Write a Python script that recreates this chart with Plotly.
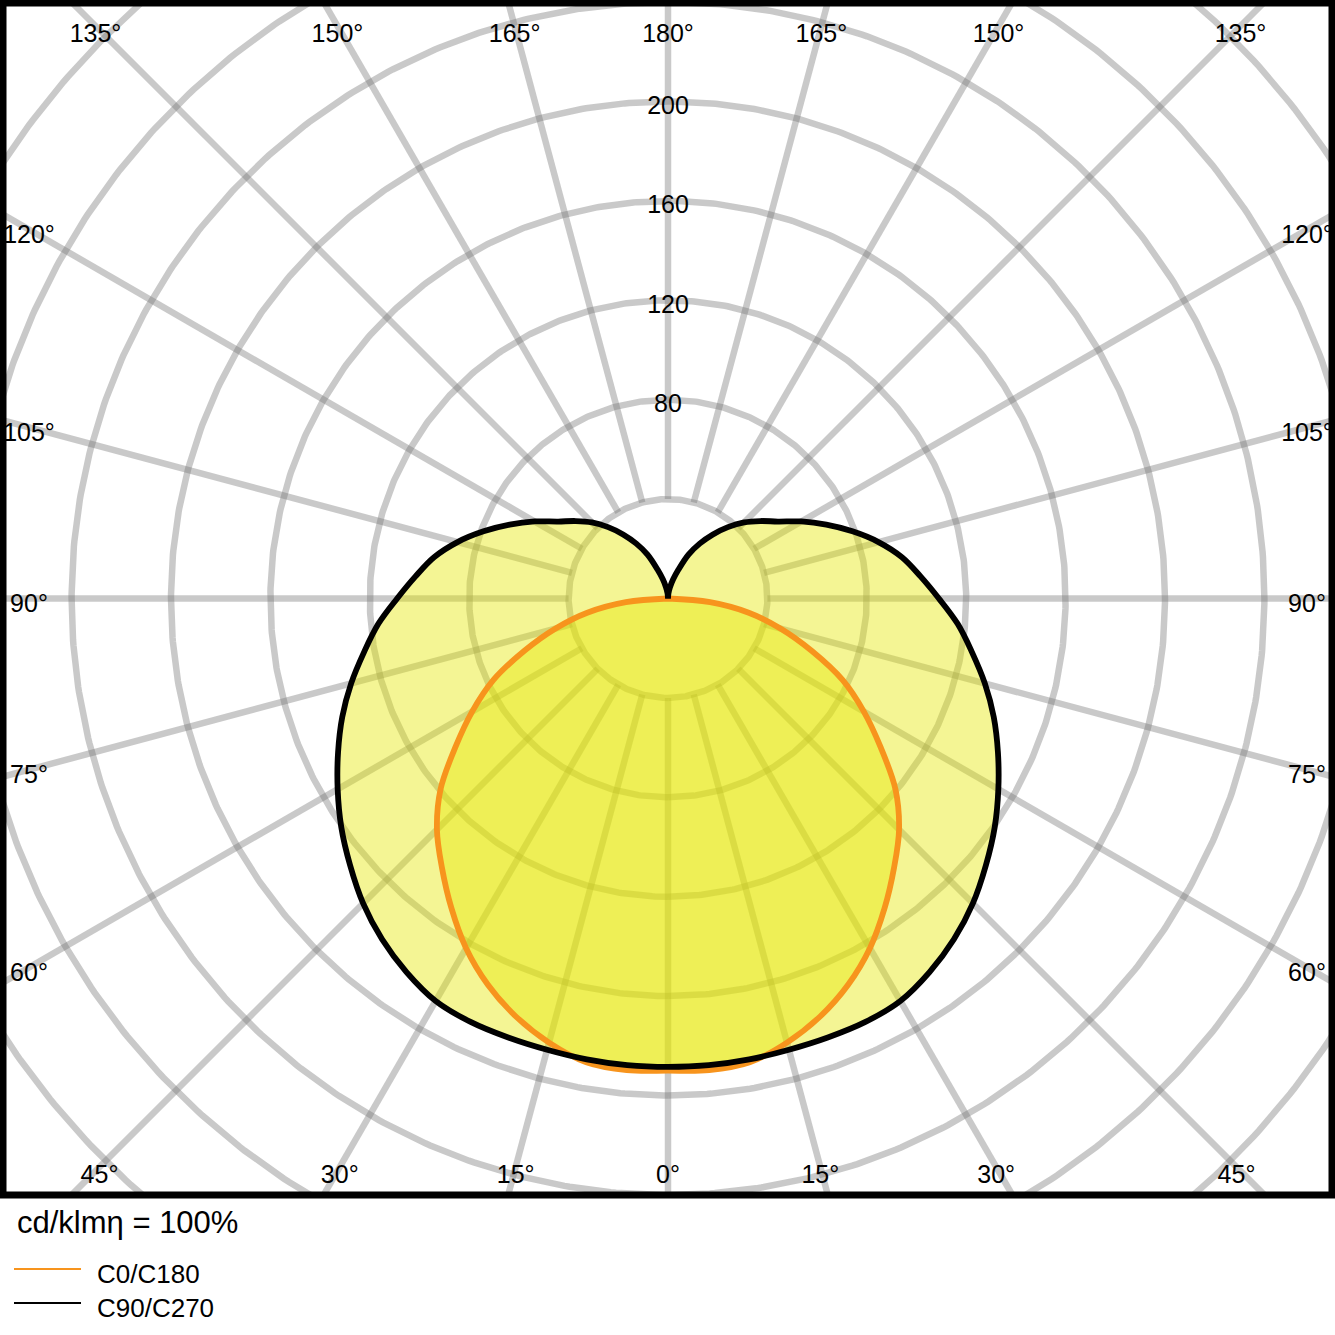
import numpy as np
import plotly.graph_objects as go

# luminous intensity (cd/klm) every 5 degrees, gamma 0 = straight down
gamma = list(range(0, 181, 5))
c0_c180 = [190, 190.5, 189.5, 185, 179, 171.5, 162.5, 152, 141.5, 131.5,
           119.5, 104.5, 91, 77.5, 61.5, 47, 33, 17, 0,
           0, 0, 0, 0, 0, 0, 0, 0, 0, 0, 0, 0, 0, 0, 0, 0, 0, 0]
c90_c270 = [188.5, 188.5, 188.3, 188, 188, 188, 187, 183.5, 179, 173.5,
            167, 160.5, 153.5, 146.5, 139.5, 132, 124.2, 117, 109,
            102, 95.6, 87.7, 79, 70.3, 62, 54, 48.5, 43.3, 37.5, 31.5,
            25.5, 19.5, 12.5, 8, 4.5, 2, 0]
series_names = ["C0/C180", "C90/C270"]
series_colors = ["#f7941d", "#000000"]

ring_values = [40, 80, 120, 160, 200, 240, 280, 320, 360]
ring_labels = [80, 120, 160, 200]
angle_ticks = list(range(0, 181, 15))
title_text = "cd/klm\u03b7 = 100%"

FONT = "Liberation Sans, Arial, sans-serif"
GRID = "rgba(120,120,120,0.4)"
FILL = "rgba(228,232,0,0.42)"

# plot area geometry (px): centre of the diagram and scale
W, H = 1335, 1335
ML, MR, MT, MB = 3, 3, 3, 140
CX, CY, S = 668, 598.5, 2.485
xr = [(ML - CX) / S, (W - MR - CX) / S]
yr = [(CY - (H - MB)) / S, (CY - MT) / S]


def to_xy(theta, r):
    t = np.radians(np.asarray(theta, dtype=float))
    r = np.asarray(r, dtype=float)
    return r * np.sin(t), -r * np.cos(t)


def mirrored(vals):
    g = np.array(gamma, dtype=float)
    v = np.array(vals, dtype=float)
    # drop the run of zeros after the curve has closed on the centre
    keep = np.ones(len(v), dtype=bool)
    for i in range(1, len(v)):
        if v[i] == 0 and v[i - 1] == 0:
            keep[i] = False
    g, v = g[keep], v[keep]
    th = np.concatenate([g, 360 - g[::-1]])
    rr = np.concatenate([v, v[::-1]])
    return to_xy(th, rr)


fig = go.Figure()

# grid rings
t = np.linspace(0, 360, 721)
gx, gy = [], []
for rv in ring_values:
    x, y = to_xy(t, np.full_like(t, rv))
    gx += list(x) + [None]
    gy += list(y) + [None]
fig.add_trace(go.Scatter(x=gx, y=gy, mode="lines", hoverinfo="skip",
                         line=dict(color=GRID, width=6.5), showlegend=False))

# radial grid lines
rx, ry = [], []
for a in range(0, 360, 15):
    x, y = to_xy([a, a], [ring_values[0], 420])
    rx += list(x) + [None]
    ry += list(y) + [None]
fig.add_trace(go.Scatter(x=rx, y=ry, mode="lines", hoverinfo="skip",
                         line=dict(color=GRID, width=6.5), showlegend=False))

curves = [mirrored(c0_c180), mirrored(c90_c270)]

# fills first, outlines on top (black last)
for (x, y) in curves[::-1]:
    fig.add_trace(go.Scatter(x=x, y=y, mode="lines", fill="toself",
                             fillcolor=FILL,
                             line=dict(width=0, shape="spline", smoothing=1),
                             hoverinfo="skip", showlegend=False))
for (x, y), name, col in zip(curves, series_names, series_colors):
    fig.add_trace(go.Scatter(x=x, y=y, mode="lines", name=name,
                             line=dict(color=col, width=5.8, shape="spline",
                                       smoothing=1),
                             showlegend=False))

# radial value labels
fig.add_trace(go.Scatter(x=[0] * len(ring_labels),
                         y=[v - 2.4 for v in ring_labels],
                         mode="text", text=[str(v) for v in ring_labels],
                         textposition="middle center", hoverinfo="skip",
                         textfont=dict(family=FONT, size=25, color="#000"),
                         showlegend=False))

# angle labels along the frame: anchored where the spoke meets an inset box,
# text sits a little below that point
XS = 639 / S
YT = (CY - 26) / S
YB = (CY - 1167) / S
DROP_TB = 10 / S
DROP_SIDE = 7.5 / S
lx, ly, lt = [], [], []
for a in angle_ticks:
    for th in sorted({a, (360 - a) % 360}):
        sx, sy = np.sin(np.radians(th)), -np.cos(np.radians(th))
        cand = []
        if abs(sx) > 1e-9:
            cand.append((XS / abs(sx), "side"))
        if sy > 1e-9:
            cand.append((YT / sy, "tb"))
        elif sy < -1e-9:
            cand.append((YB / sy, "tb"))
        tt, kind = min(cand)
        px, py = tt * sx, tt * sy
        py -= DROP_SIDE if kind == "side" else DROP_TB
        lx.append(px)
        ly.append(py)
        lt.append(f"{a}\u00b0")
fig.add_trace(go.Scatter(x=lx, y=ly, mode="text", text=lt,
                         textposition="middle center", hoverinfo="skip",
                         textfont=dict(family=FONT, size=25, color="#000"),
                         showlegend=False))


def pxp(px, py):
    return (px - ML) / (W - ML - MR), ((H - MB) - py) / (H - MT - MB)


shapes = [dict(type="rect", xref="paper", yref="paper", x0=0, x1=1, y0=0, y1=1,
               line=dict(color="#000", width=7), layer="above")]
annotations = []
tx, ty = pxp(15, 1222)
annotations.append(dict(x=tx, y=ty, xref="paper", yref="paper", text=title_text,
                        showarrow=False, xanchor="left", yanchor="middle",
                        font=dict(family=FONT, size=31, color="#000")))
for i, (name, col) in enumerate(zip(series_names, series_colors)):
    yl = 1269 + 34 * i
    x0, y0 = pxp(14, yl)
    x1, _ = pxp(81, yl)
    shapes.append(dict(type="line", xref="paper", yref="paper", x0=x0, x1=x1,
                       y0=y0, y1=y0, line=dict(color=col, width=2)))
    ax, ay = pxp(95, yl + 5)
    annotations.append(dict(x=ax, y=ay, xref="paper", yref="paper", text=name,
                            showarrow=False, xanchor="left", yanchor="middle",
                            font=dict(family=FONT, size=26, color="#000")))

fig.update_layout(
    width=W, height=H,
    margin=dict(l=ML, r=MR, t=MT, b=MB),
    paper_bgcolor="white", plot_bgcolor="white",
    xaxis=dict(range=xr, visible=False, fixedrange=True),
    yaxis=dict(range=yr, visible=False, fixedrange=True),
    shapes=shapes, annotations=annotations,
    showlegend=False,
)

fig.write_html("out.html",
               config={"displayModeBar": False},
               post_script="document.body.style.margin='0px';"
                           "document.body.style.overflow='hidden';")
